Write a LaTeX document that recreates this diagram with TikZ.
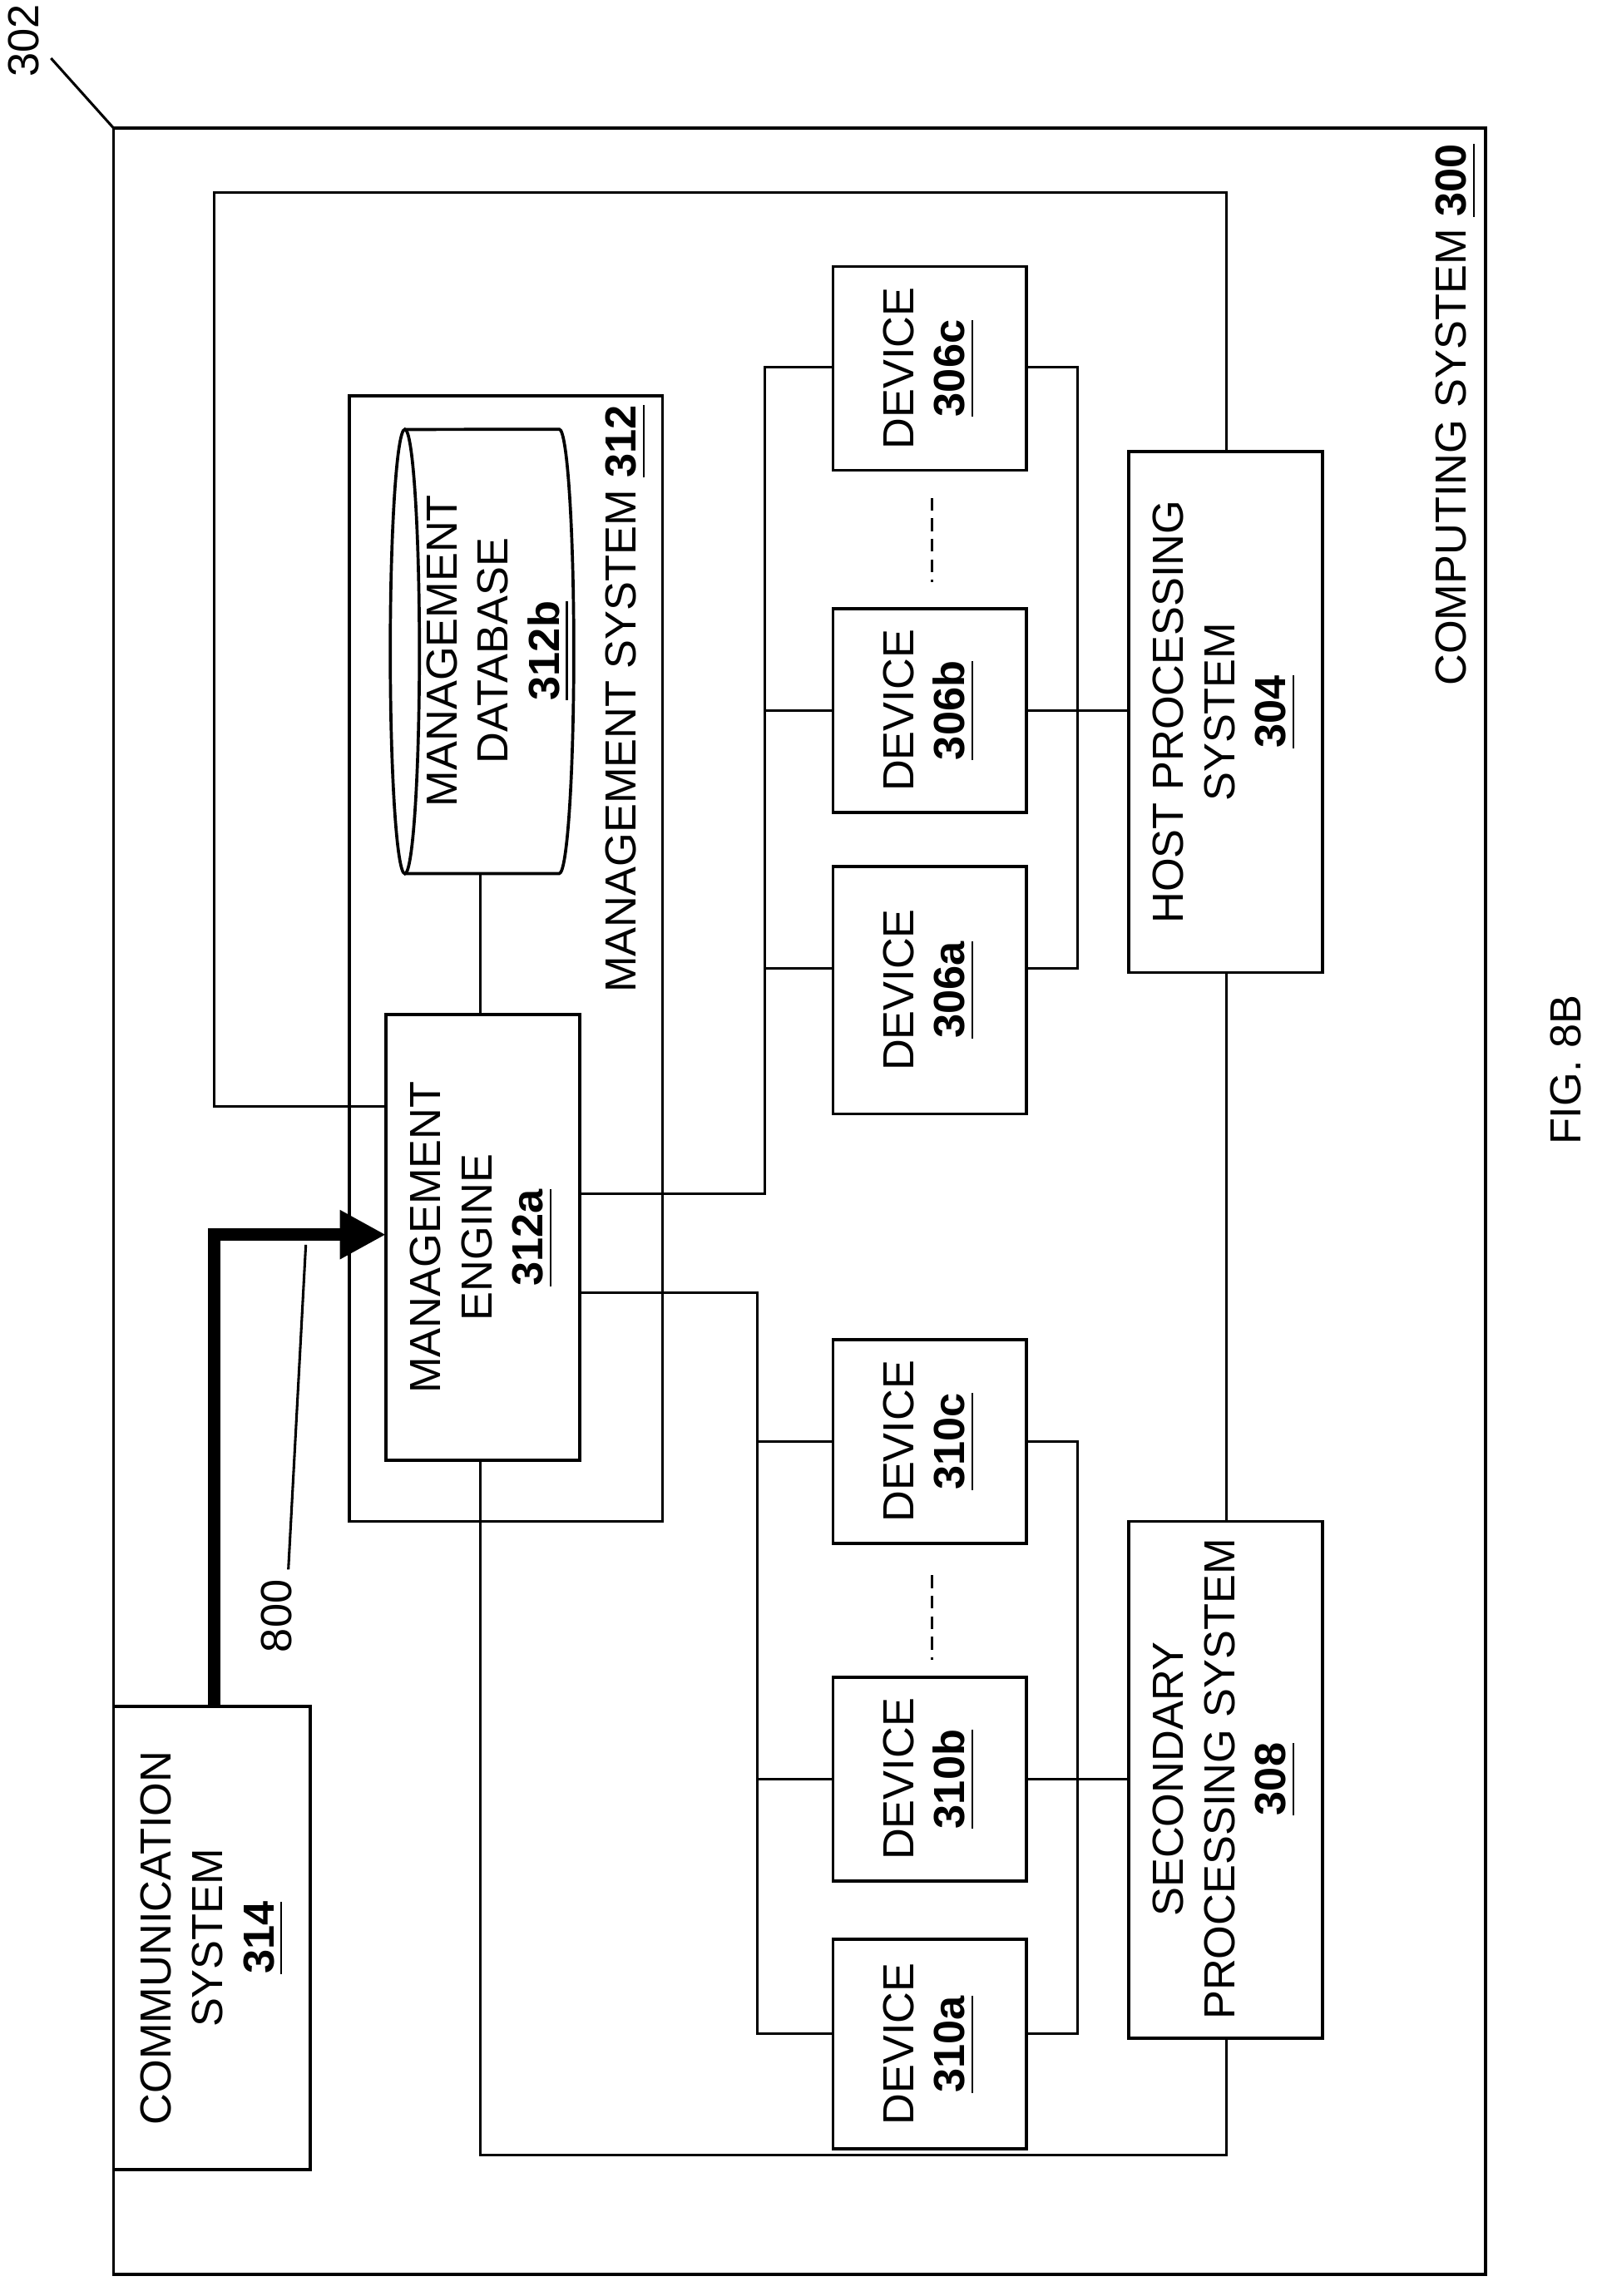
\documentclass[tikz,border=0pt]{standalone}
\usepackage{fontspec}
\setmainfont{Liberation Sans}
\usetikzlibrary{arrows.meta}
\newcommand{\num}[1]{\underline{\textbf{#1}}}
\tikzset{
    lbl/.style={rotate=90, align=center, font=\fontsize{8.5}{10}\selectfont},
    wire/.style={line width=0.5pt},
    box/.style={line width=0.6pt}
}
\begin{document}
\begin{tikzpicture}[x=0.01cm, y=-0.01cm]
    \useasboundingbox (0,0) rectangle (1100,1577);

    % outer system
    \draw[box] (78,88) rectangle (1020,1562);
    \node[lbl] (num302) at (16,28) {302};
    \coordinate (tag) at (35,40);
    \draw[wire] (tag) -- (78,88);
    \node[lbl] (comp) at (1000,285) {COMPUTING SYSTEM \num{300}};

    % management system
    \draw[box] (240,272) rectangle (455,1045);
    \node[lbl] (msys) at (430,480) {MANAGEMENT SYSTEM \num{312}};
    \draw[box] (278,600) -- (384,600) arc (-90:90:0.1cm and 1.525cm) -- (278,295);
    \draw[box] (278,447.5) ellipse (0.1cm and 1.525cm);
    \node[lbl] (db) at (342,447) {MANAGEMENT\\DATABASE\\\num{312b}};
    \draw[box] (265,697) rectangle (398,1003);
    \node[lbl] (engine) at (331,850) {MANAGEMENT\\ENGINE\\\num{312a}};
    \draw[wire] (330,600) -- (330,697);

    % processing systems
    \draw[box] (775,310) rectangle (908,668);
    \node[lbl] (host) at (841,489) {HOST PROCESSING\\SYSTEM\\\num{304}};
    \draw[box] (775,1045) rectangle (908,1400);
    \node[lbl] (sec) at (841,1222) {SECONDARY\\PROCESSING SYSTEM\\\num{308}};

    % devices
    \foreach \nm/\ya/\yb in {306a/595/765, 306b/418/558, 306c/183/323}{
        \draw[box] (572,\ya) rectangle (705,\yb);
        \node[lbl] (d\nm) at (638,{(\ya+\yb)/2}) {DEVICE\\\num{\nm}};
    }
    \foreach \nm/\ya/\yb in {310a/1332/1476, 310b/1152/1292, 310c/920/1060}{
        \draw[box] (572,\ya) rectangle (705,\yb);
        \node[lbl] (d\nm) at (638,{(\ya+\yb)/2}) {DEVICE\\\num{\nm}};
    }
    \draw[wire, dash pattern=on 2.5pt off 1.5pt] (640,342) -- (640,400);
    \draw[wire, dash pattern=on 2.5pt off 1.5pt] (640,1082) -- (640,1140);

    % buses
    \draw[wire] (398,820) -- (525,820) -- (525,252) -- (572,252);
    \draw[wire] (525,488) -- (572,488);
    \draw[wire] (525,665) -- (572,665);
    \draw[wire] (705,252) -- (740,252) -- (740,665) -- (705,665);
    \draw[wire] (705,488) -- (775,488);
    \draw[wire] (398,888) -- (520,888) -- (520,1397) -- (572,1397);
    \draw[wire] (520,990) -- (572,990);
    \draw[wire] (520,1222) -- (572,1222);
    \draw[wire] (705,990) -- (740,990) -- (740,1397) -- (705,1397);
    \draw[wire] (705,1222) -- (775,1222);

    % loop
    \draw[wire] (330,1003) -- (330,1480) -- (842,1480) -- (842,1400);
    \draw[wire] (842,1045) -- (842,668);
    \draw[wire] (842,310) -- (842,132) -- (147,132) -- (147,760) -- (265,760);

    % communication
    \draw[box] (78,1172) rectangle (213,1490);
    \node[lbl] (comm) at (146,1331) {COMMUNICATION\\SYSTEM\\\num{314}};
    \draw[line width=2.5pt, -{Triangle[length=9pt,width=9pt]}] (147,1172) -- (147,848) -- (265,848);
    \node[lbl] (n800) at (190,1110) {800};
    \draw[wire] (198,1078) -- (210,855);

    \node[lbl] (fig) at (1075,735) {FIG. 8B};
\end{tikzpicture}
\end{document}
